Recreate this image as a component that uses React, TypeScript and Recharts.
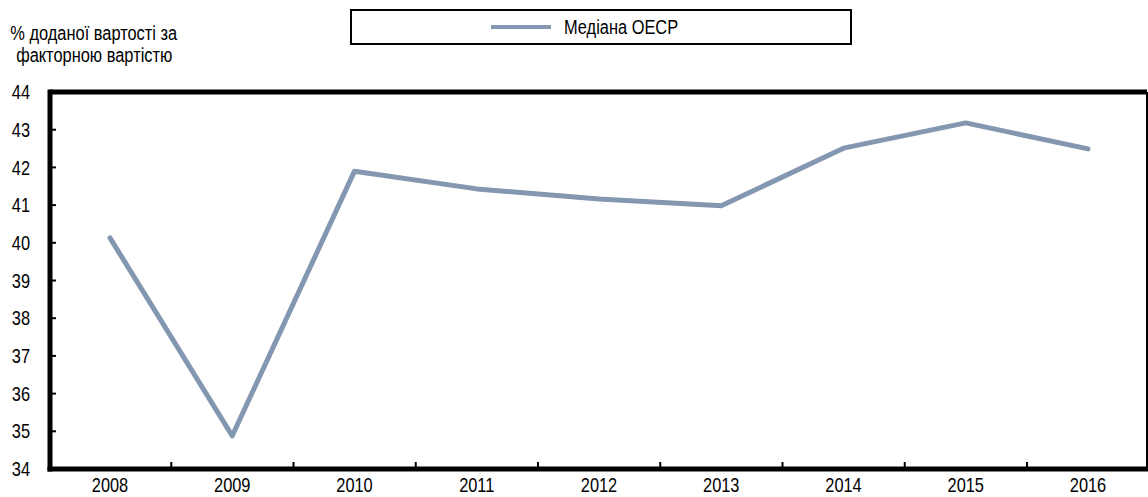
import { LineChart, Line, XAxis, YAxis, ReferenceLine } from "recharts";

const years = ["2008", "2009", "2010", "2011", "2012", "2013", "2014", "2015", "2016"];
const oecdMedian = [40.13, 34.88, 41.9, 41.43, 41.16, 40.98, 42.51, 43.18, 42.49];
const yTicks = [34, 35, 36, 37, 38, 39, 40, 41, 42, 43, 44];

const data = years.map((year, i) => ({ year, median: oecdMedian[i] }));

// no narrow font installed, so squeeze Liberation Sans horizontally
const FONT = '"Liberation Sans", Arial, sans-serif';
const SQUEEZE = 0.82;
const LINE_COLOR = "#8497B0";
const HALF_STEP = 61;

const XTick = (props: any) => {
  const { x, y, payload, index } = props;
  return (
    <g>
      {index > 0 && <line x1={x - HALF_STEP} x2={x - HALF_STEP} y1={468} y2={462} stroke="#000" strokeWidth={2} />}
      <text transform={`translate(${x},${y + 8}) scale(${SQUEEZE},1)`} textAnchor="middle" dominantBaseline="central"
        fontSize={20} fill="#000" fontFamily={FONT}>
        {payload.value}
      </text>
    </g>
  );
};

const YTick = (props: any) => {
  const { x, y, payload } = props;
  return (
    <g>
      <line x1={50} x2={56} y1={y} y2={y} stroke="#000" strokeWidth={2} />
      <text transform={`translate(${x},${y}) scale(${SQUEEZE},1)`} textAnchor="end" dominantBaseline="central"
        fontSize={20} fill="#000" fontFamily={FONT}>
        {payload.value}
      </text>
    </g>
  );
};

const squeezed = { display: "inline-block", transform: `scaleX(${SQUEEZE})`, whiteSpace: "nowrap" as const };
const frame = { stroke: "#000", strokeWidth: 5, strokeLinecap: "square" as const };

export default function App() {
  return (
    <div style={{ position: "absolute", left: 0, top: 0, width: 1148, height: 497, background: "#fff", fontFamily: FONT }}>
      <div style={{ position: "absolute", left: -26, top: 22, width: 240, textAlign: "center", fontSize: 20, lineHeight: "22px" }}>
        <div><span style={{ ...squeezed, transformOrigin: "center" }}>% доданої вартості за</span></div>
        <div><span style={{ ...squeezed, transformOrigin: "center" }}>факторною вартістю</span></div>
      </div>
      <div style={{ position: "absolute", left: 350, top: 9, width: 498, height: 32, border: "2px solid #000" }}>
        <span style={{ position: "absolute", left: 139, top: 14, width: 60, height: 4, background: LINE_COLOR }} />
        <span style={{ ...squeezed, position: "absolute", left: 212, top: 4, fontSize: 20, lineHeight: "24px", transformOrigin: "left center" }}>
          Медіана OECP
        </span>
      </div>
      <LineChart width={1148} height={497} data={data} margin={{ top: 92, right: 0, left: 0, bottom: 0 }}>
        <XAxis dataKey="year" height={28} interval={0} tickLine={false} tick={<XTick />}
          padding={{ left: 60, right: 59 }} axisLine={frame} />
        <YAxis domain={[34, 44]} ticks={yTicks} width={50} interval={0} tickLine={false} tickSize={0} tickMargin={20}
          tick={<YTick />} axisLine={frame} />
        <YAxis yAxisId="right" orientation="right" width={1} tick={false} tickLine={false}
          axisLine={{ stroke: "#000", strokeWidth: 2 }} />
        <ReferenceLine y={44} stroke="#000" strokeWidth={5} ifOverflow="visible" />
        <Line dataKey="median" stroke={LINE_COLOR} strokeWidth={5} dot={false}
          strokeLinecap="round" strokeLinejoin="round" isAnimationActive={false} />
      </LineChart>
    </div>
  );
}
